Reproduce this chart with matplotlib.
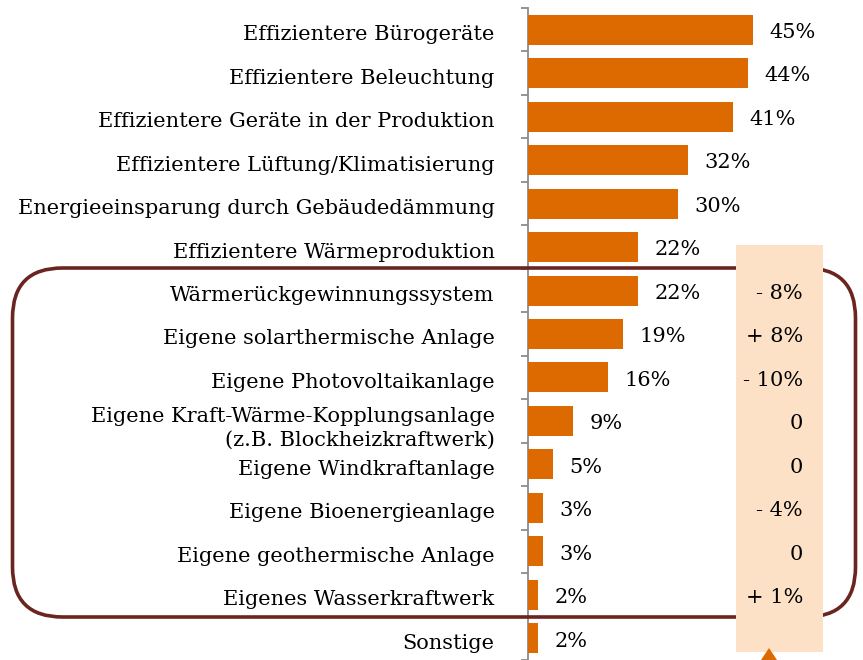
import matplotlib
matplotlib.use('Agg')
import matplotlib.pyplot as plt
import matplotlib.transforms as mtransforms
from matplotlib.patches import FancyBboxPatch, Rectangle

categories = ['Effizientere Bürogeräte', 'Effizientere Beleuchtung',
              'Effizientere Geräte in der Produktion', 'Effizientere Lüftung/Klimatisierung',
              'Energieeinsparung durch Gebäudedämmung', 'Effizientere Wärmeproduktion',
              'Wärmerückgewinnungssystem', 'Eigene solarthermische Anlage',
              'Eigene Photovoltaikanlage',
              'Eigene Kraft-Wärme-Kopplungsanlage\n(z.B. Blockheizkraftwerk)',
              'Eigene Windkraftanlage', 'Eigene Bioenergieanlage',
              'Eigene geothermische Anlage', 'Eigenes Wasserkraftwerk', 'Sonstige']
values = [45, 44, 41, 32, 30, 22, 22, 19, 16, 9, 5, 3, 3, 2, 2]
changes = ['- 8%', '+ 8%', '- 10%', '0', '0', '- 4%', '0', '+ 1%']  # rows 6..13
change_start = 6

W, H = 863, 660
fig = plt.figure(figsize=(W / 100, H / 100), dpi=100)
plt.rcParams['font.family'] = ['DejaVu Serif']
fs = 15

bar_color = '#DD6A00'
frame_color = '#6B2520'
peach = '#FDE1C6'

# bars axes: left at x=528px, 5 px per percent, y from 8 to 660 px
ax_left, ax_top, ax_bot = 528, 8, 660
ax_w = 863 - ax_left
ax = fig.add_axes([ax_left / W, (H - ax_bot) / H, ax_w / W, (ax_bot - ax_top) / H])
ax.set_xlim(0, ax_w / 5)
n = len(categories)
ax.set_ylim(n - 0.5, -0.5)
ax.patch.set_alpha(0)

pos = list(range(n))
ax.barh(pos, values, height=0.69, color=bar_color, zorder=3)
for p, v in zip(pos, values):
    ax.annotate(f'{v}%', (v, p), xytext=(12, -2), textcoords='offset points',
                va='center', ha='left', fontsize=fs, zorder=5)

for s in ['top', 'right', 'bottom']:
    ax.spines[s].set_visible(False)
ax.spines['left'].set_color('#8C8C8C')
ax.spines['left'].set_linewidth(1.3)
ax.set_xticks([])
ax.set_yticks(pos)
ax.set_yticklabels(categories, fontsize=fs, ha='right', multialignment='right',
                   linespacing=1.3)
ax.tick_params(axis='y', which='major', length=0, pad=24)
shift = mtransforms.ScaledTranslation(0, -3 / 100, fig.dpi_scale_trans)
for lbl in ax.get_yticklabels():
    lbl.set_transform(lbl.get_transform() + shift)
ax.set_yticks([p - 0.5 for p in pos] + [n - 0.5], minor=True)
ax.tick_params(axis='y', which='minor', length=5, color='#8C8C8C', width=1.3)

# rounded frame around the self-generation group (pixel based via inches)
frame = FancyBboxPatch((0.125, 0.43), 8.43, 3.49,
                       boxstyle='round,pad=0,rounding_size=0.5',
                       transform=fig.dpi_scale_trans, fill=False,
                       edgecolor=frame_color, linewidth=2.6, zorder=1)
fig.patches.append(frame)

# peach column with changes
box = Rectangle((7.36, 0.08), 0.87, 4.07, transform=fig.dpi_scale_trans,
                facecolor=peach, edgecolor='none', zorder=2)
fig.patches.append(box)

row_h = (ax_bot - ax_top) / n
for i, c in enumerate(changes):
    r = change_start + i
    y_px = ax_top + row_h * (r + 0.5) + 3
    fig.text(803 / W, 1 - y_px / H, c, ha='right', va='center', fontsize=fs, zorder=4)

# small orange arrow head under the column
fig.patches.append(plt.Polygon([(7.61, 0.0), (7.77, 0.0), (7.69, 0.12)], closed=True,
                               transform=fig.dpi_scale_trans, facecolor=bar_color,
                               edgecolor='none', zorder=3))

plt.savefig('out.png', dpi=100)
